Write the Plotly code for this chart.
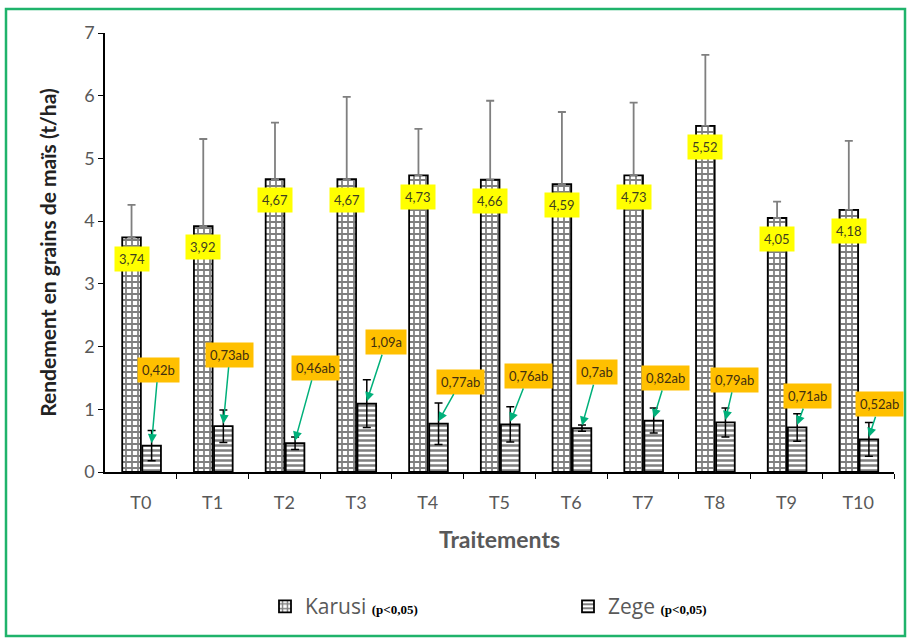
import plotly.graph_objects as go

# ---- data ----
treatments = ["T0", "T1", "T2", "T3", "T4", "T5", "T6", "T7", "T8", "T9", "T10"]
karusi = [3.74, 3.92, 4.67, 4.67, 4.73, 4.66, 4.59, 4.73, 5.52, 4.05, 4.18]
karusi_err = [0.52, 1.39, 0.90, 1.31, 0.74, 1.26, 1.15, 1.16, 1.13, 0.26, 1.10]
zege = [0.42, 0.73, 0.46, 1.09, 0.77, 0.76, 0.70, 0.82, 0.79, 0.71, 0.52]
zege_err = [0.24, 0.26, 0.10, 0.38, 0.33, 0.28, 0.05, 0.20, 0.23, 0.22, 0.27]
karusi_labels = ["3,74", "3,92", "4,67", "4,67", "4,73", "4,66", "4,59", "4,73", "5,52", "4,05", "4,18"]
zege_labels = ["0,42b", "0,73ab", "0,46ab", "1,09a", "0,77ab", "0,76ab", "0,7ab",
               "0,82ab", "0,79ab", "0,71ab", "0,52ab"]
# label placement (annotation positions)
zege_label_dx = [0.24, 0.24, 0.43, 0.42, 0.46, 0.40, 0.36, 0.32, 0.28, 0.30, 0.30]
zege_label_y = [1.63, 1.87, 1.66, 2.07, 1.44, 1.53, 1.59, 1.50, 1.47, 1.21, 1.08]

W, H = 909, 639
ML, MR, MT, MB = 105, 15, 33, 167
K_OFF, Z_OFF, BW = -0.13, 0.15, 0.26

idx = list(range(len(treatments)))
kx = [i + K_OFF for i in idx]
zx = [i + Z_OFF for i in idx]

FONT = "Lato"
GRAY = "#595959"
PTAG = "<span style='font-family:Liberation Serif;font-size:13px;color:black'><b>(p&lt;0,05)</b></span>"

fig = go.Figure()
fig.add_trace(go.Bar(
    x=kx, y=karusi, width=BW,
    name="Karusi " + PTAG,
    marker=dict(color="white", line=dict(color="black", width=1.8),
                pattern=dict(shape="+", fgcolor="black", bgcolor="white", size=6, solidity=0.5)),
    error_y=dict(type="data", symmetric=False, array=karusi_err, arrayminus=[0] * len(karusi),
                 color="#7f7f7f", thickness=1.8, width=4),
))
fig.add_trace(go.Bar(
    x=zx, y=zege, width=BW,
    name="Zege " + PTAG,
    marker=dict(color="white", line=dict(color="black", width=1.8),
                pattern=dict(shape="-", fgcolor="black", bgcolor="white", size=5, solidity=0.5)),
    error_y=dict(type="data", array=zege_err, color="black", thickness=1.5, width=4),
))

annotations = []
for i in idx:
    annotations.append(dict(
        x=kx[i], y=karusi[i] - 0.34, text=karusi_labels[i], showarrow=False,
        font=dict(family=FONT, size=13, color="#3f3f1f"),
        bgcolor="#ffff00", borderpad=4,
    ))
    annotations.append(dict(
        x=zx[i], y=zege[i] + 0.04, xref="x", yref="y",
        ax=i + zege_label_dx[i], ay=zege_label_y[i], axref="x", ayref="y",
        text=zege_labels[i], showarrow=True, arrowhead=2, arrowsize=1.2, arrowwidth=1.5,
        arrowcolor="#00b07a",
        font=dict(family=FONT, size=13, color="#3f2f0f"),
        bgcolor="#ffc000", borderpad=4,
    ))

# frame
pw = W - ML - MR
ph = H - MT - MB
frame = [dict(
    type="rect", xref="paper", yref="paper",
    x0=(6 - ML) / pw, x1=(905 - ML) / pw,
    y0=(H - MB - 636) / ph, y1=(H - MB - 9) / ph,
    line=dict(color="#1fb36b", width=2.5), fillcolor="rgba(0,0,0,0)", layer="below",
)]

fig.update_layout(
    width=W, height=H,
    margin=dict(l=ML, r=MR, t=MT, b=MB, autoexpand=False),
    paper_bgcolor="white", plot_bgcolor="white",
    barmode="overlay", showlegend=True,
    font=dict(family=FONT, color=GRAY),
    annotations=annotations,
    shapes=frame,
    legend=dict(orientation="h", x=(265 - ML) / pw, xanchor="left", y=-0.26, yanchor="top",
                font=dict(family="Open Sans", size=21, color=GRAY),
                entrywidth=258, entrywidthmode="pixels"),
    xaxis=dict(range=[-0.5, 10.5], tickvals=idx, ticktext=treatments, ticks="",
               ticklabelstandoff=14,
               showline=True, linecolor="black", linewidth=1.5, showgrid=False, zeroline=False,
               tickfont=dict(size=18, color=GRAY),
               minor=dict(tickvals=[i + 0.5 for i in idx], ticks="outside", ticklen=5,
                          tickcolor="black", showgrid=False),
               title=dict(text="<b>Traitements</b>", font=dict(size=23, color=GRAY), standoff=20)),
    yaxis=dict(range=[0, 7], dtick=1, ticks="outside", ticklen=5, tickcolor="black",
               showline=True, linecolor="black", linewidth=1.5, showgrid=False, zeroline=False,
               tickfont=dict(size=18, color=GRAY),
               title=dict(text="<b>Rendement en grains de maïs (t/ha)</b>",
                          font=dict(size=21, color="#222222"), standoff=22)),
)

fig.write_html("out.html", config={"displayModeBar": False},
               post_script="document.body.style.margin='0';document.body.style.overflow='hidden';")
